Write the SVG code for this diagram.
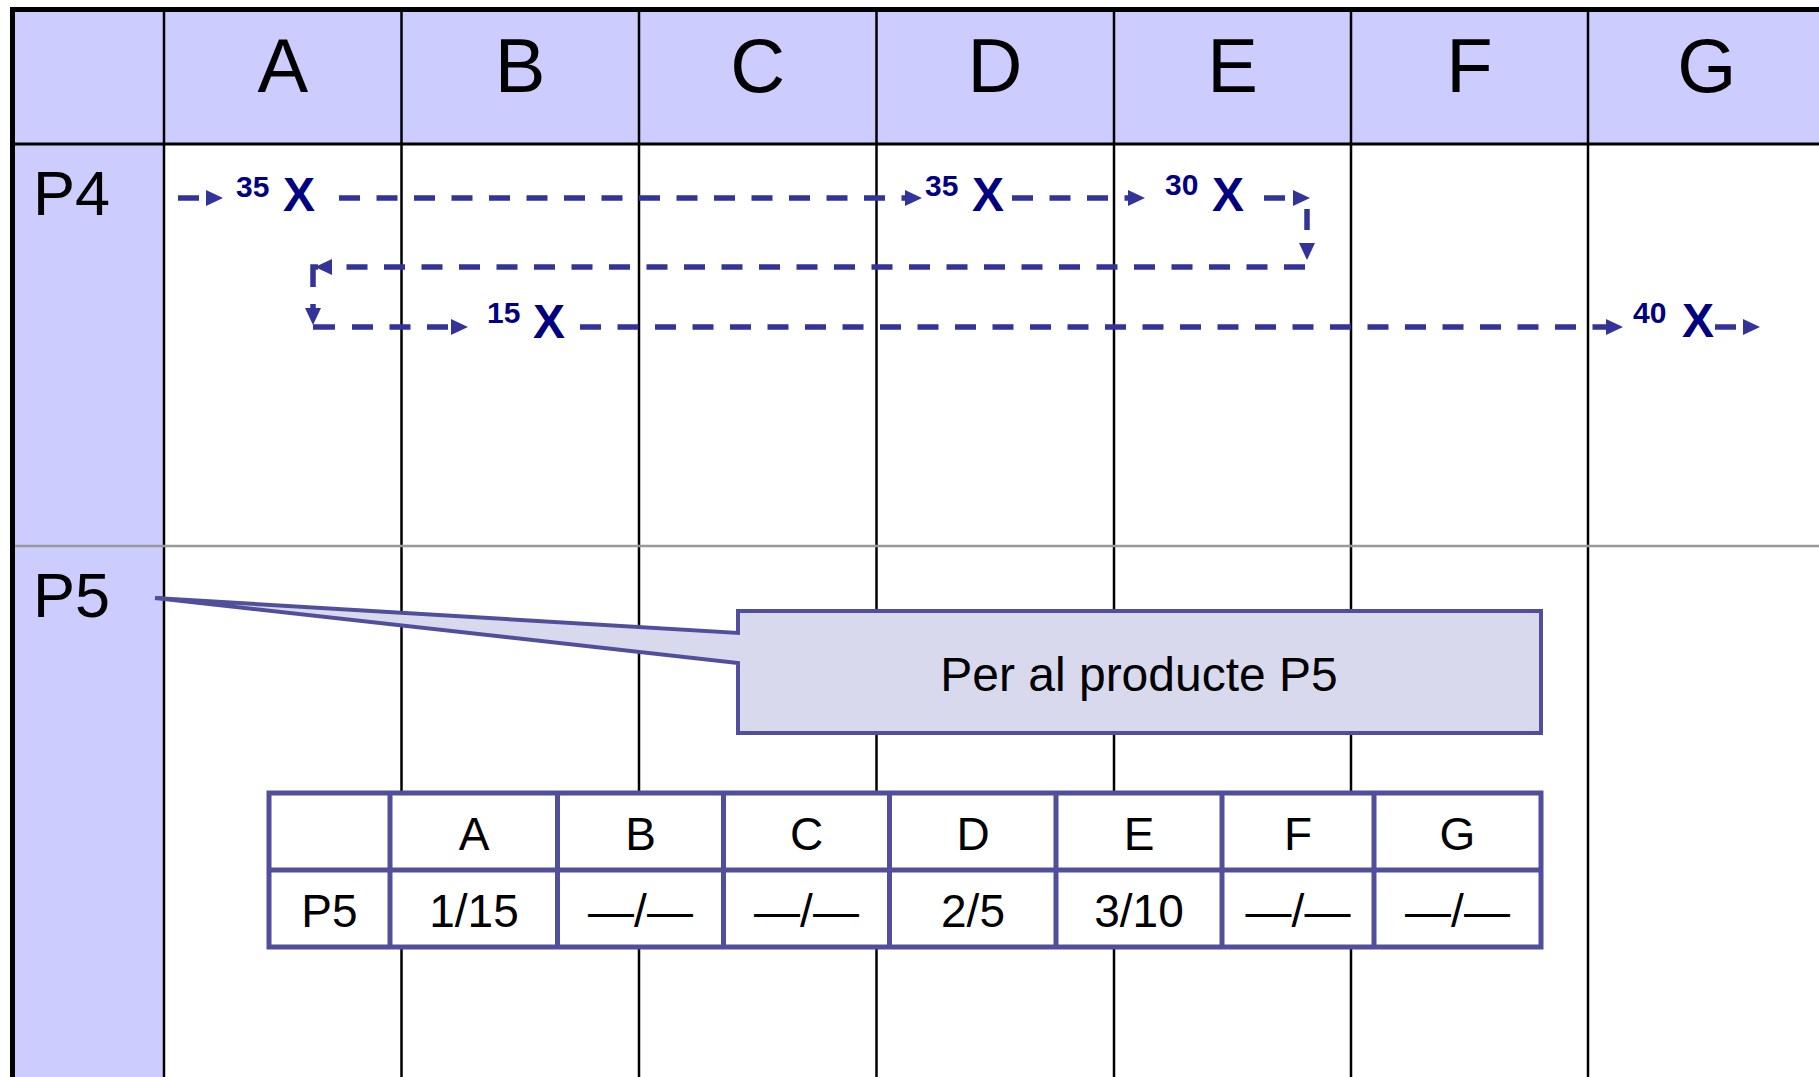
<svg xmlns="http://www.w3.org/2000/svg" width="1819" height="1077" viewBox="0 0 1819 1077">
<style>
.hdr{font-family:"Liberation Sans",Arial,sans-serif;font-size:76px;fill:#000;text-anchor:middle}
.row{font-family:"Liberation Sans",Arial,sans-serif;font-size:63px;fill:#000}
.grid{stroke:#000;stroke-width:2.5;fill:none}
.flow{stroke:#333399;stroke-width:5.5;fill:none;stroke-dasharray:21 16.5}
.solid{stroke:#333399;stroke-width:5.5;fill:none}
.num{font-family:"Liberation Sans",Arial,sans-serif;font-weight:bold;font-size:30px;fill:#000080}
.x{font-family:"Liberation Sans",Arial,sans-serif;font-weight:bold;font-size:48px;fill:#000080}
.tbl{font-family:"Liberation Sans",Arial,sans-serif;font-size:46px;fill:#000;text-anchor:middle}
.tline{stroke:#514F9B;stroke-width:5;fill:none}
.tbox{stroke:#514F9B;stroke-width:5;fill:#fff}
</style>
<defs>
<marker id="ah" markerUnits="userSpaceOnUse" markerWidth="18" markerHeight="17" refX="0" refY="8" orient="auto" overflow="visible">
<path d="M0,0 L17,8 L0,16 Z" fill="#333399"/>
</marker>
</defs>
<rect width="1819" height="1077" fill="#fff"/>
<g id="background">
<rect x="12" y="9" width="1807" height="135" fill="#CCCCFF"/>
<rect x="12" y="9" width="152" height="1068" fill="#CCCCFF"/>
</g>
<g id="grid">
<line class="grid" x1="164" y1="9" x2="164" y2="1077"/>
<line class="grid" x1="401.5" y1="9" x2="401.5" y2="1077"/>
<line class="grid" x1="639" y1="9" x2="639" y2="1077"/>
<line class="grid" x1="876.5" y1="9" x2="876.5" y2="1077"/>
<line class="grid" x1="1114" y1="9" x2="1114" y2="1077"/>
<line class="grid" x1="1351" y1="9" x2="1351" y2="1077"/>
<line class="grid" x1="1588" y1="9" x2="1588" y2="1077"/>
<line x1="12" y1="546" x2="1819" y2="546" stroke="#999" stroke-width="2.5"/>
<line x1="12" y1="144" x2="1819" y2="144" stroke="#000" stroke-width="3"/>
<line x1="10" y1="9.5" x2="1819" y2="9.5" stroke="#000" stroke-width="5"/>
<line x1="12.5" y1="7" x2="12.5" y2="1077" stroke="#000" stroke-width="5"/>
</g>
<g id="headers">
<text class="hdr" x="282.75" y="92">A</text>
<text class="hdr" x="520" y="92">B</text>
<text class="hdr" x="757.75" y="92">C</text>
<text class="hdr" x="995" y="92">D</text>
<text class="hdr" x="1232.5" y="92">E</text>
<text class="hdr" x="1469.5" y="92">F</text>
<text class="hdr" x="1706.75" y="92">G</text>
</g>
<g id="row-P4"><text class="row" x="33" y="215">P4</text></g>
<g id="row-P5"><text class="row" x="33" y="617">P5</text></g>
<g id="connectors">
<path class="flow" d="M178,198 H206" marker-end="url(#ah)"/>
<path class="flow" d="M339,198 H905" marker-end="url(#ah)"/>
<path class="flow" d="M1012,198 H1128" marker-end="url(#ah)"/>
<path class="flow" d="M1264,198 H1293" marker-end="url(#ah)"/>
<path class="flow" d="M1307,209 V243" stroke-dasharray="19 40" marker-end="url(#ah)"/>
<path class="flow" d="M1305,267 H332" marker-end="url(#ah)"/>
<path class="solid" d="M313,287 V267 H318"/>
<path class="solid" d="M313,304 V308" marker-end="url(#ah)"/>
<path class="solid" d="M313,327 H335"/>
<path class="flow" d="M352,327 H451" marker-end="url(#ah)"/>
<path class="flow" d="M580,327 H1606" marker-end="url(#ah)"/>
<path class="flow" d="M1715,327 H1743" marker-end="url(#ah)"/>
</g>
<g id="node-A1"><text class="num" x="236" y="197">35</text><text class="x" x="283" y="211">X</text></g>
<g id="node-D"><text class="num" x="925" y="196">35</text><text class="x" x="972" y="211">X</text></g>
<g id="node-E"><text class="num" x="1165" y="195">30</text><text class="x" x="1212" y="211">X</text></g>
<g id="node-B"><text class="num" x="487" y="323">15</text><text class="x" x="533" y="338">X</text></g>
<g id="node-G"><text class="num" x="1633" y="323">40</text><text class="x" x="1682" y="337">X</text></g>
<g id="callout">
<path d="M738,611 H1541 V733 H738 V663 L155,598 L738,633 Z" fill="#D9D9ED" stroke="#514F9B" stroke-width="4" stroke-linejoin="miter"/>
<text x="1139" y="691" font-family="Liberation Sans, Arial, sans-serif" font-size="48" text-anchor="middle" fill="#000">Per al producte P5</text>
</g>
<g id="table-P5">
<rect class="tbox" x="269" y="793" width="1272" height="154"/>
<line class="tline" x1="269" y1="870" x2="1541" y2="870"/>
<line class="tline" x1="390" y1="793" x2="390" y2="947"/>
<line class="tline" x1="557.5" y1="793" x2="557.5" y2="947"/>
<line class="tline" x1="723.5" y1="793" x2="723.5" y2="947"/>
<line class="tline" x1="889.5" y1="793" x2="889.5" y2="947"/>
<line class="tline" x1="1056" y1="793" x2="1056" y2="947"/>
<line class="tline" x1="1222" y1="793" x2="1222" y2="947"/>
<line class="tline" x1="1374" y1="793" x2="1374" y2="947"/>
<text class="tbl" x="474" y="850">A</text>
<text class="tbl" x="640.5" y="850">B</text>
<text class="tbl" x="806.5" y="850">C</text>
<text class="tbl" x="973" y="850">D</text>
<text class="tbl" x="1139" y="850">E</text>
<text class="tbl" x="1298" y="850">F</text>
<text class="tbl" x="1457.5" y="850">G</text>
<text class="tbl" x="329.5" y="927">P5</text>
<text class="tbl" x="474" y="927">1/15</text>
<text class="tbl" x="640.5" y="927">—/—</text>
<text class="tbl" x="806.5" y="927">—/—</text>
<text class="tbl" x="973" y="927">2/5</text>
<text class="tbl" x="1139" y="927">3/10</text>
<text class="tbl" x="1298" y="927">—/—</text>
<text class="tbl" x="1457.5" y="927">—/—</text>
</g>
</svg>
